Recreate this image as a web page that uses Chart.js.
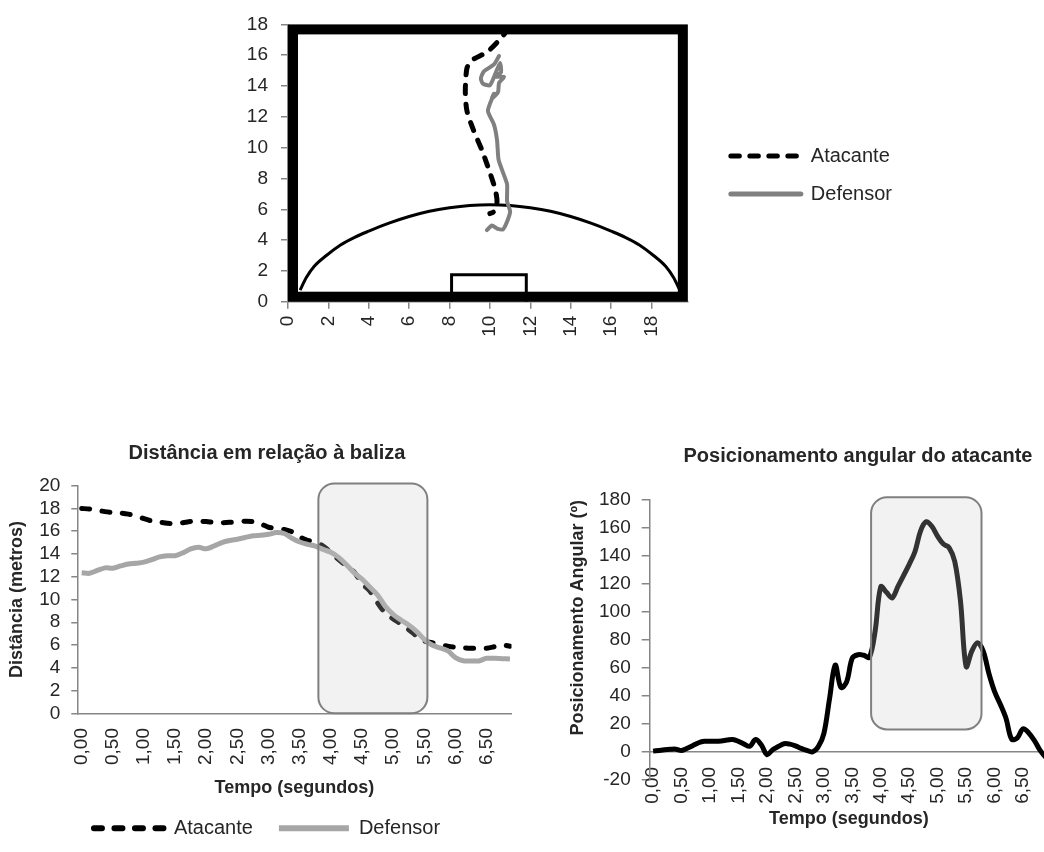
<!DOCTYPE html>
<html lang="pt">
<head>
<meta charset="utf-8">
<title>Atacante vs Defensor</title>
<script src="https://cdn.jsdelivr.net/npm/chart.js@4.4.1/dist/chart.umd.min.js"></script>
<style>
  html, body { margin: 0; padding: 0; background: #fff; overflow: hidden; }
  body { position: relative; width: 1044px; height: 852px; }
  canvas { position: absolute; }
  #campo { left: 0; top: 0; }
  #distancia { left: 0; top: 430px; }
  #angulo { left: 560px; top: 430px; }
</style>
</head>
<body>
<canvas id="campo" width="1044" height="360"></canvas>
<canvas id="distancia" width="540" height="422"></canvas>
<canvas id="angulo" width="600" height="440"></canvas>
<script>
// campo: trajetorias em metros
const atacanteX = [10.85, 10.76, 10.43, 9.85, 9.1, 8.86, 8.78, 8.86, 9.19, 9.6, 10.0, 10.26, 10.35, 10.18, 10.0];
const atacanteY = [17.8, 17.47, 16.94, 16.2, 15.67, 15.15, 13.66, 12.39, 11.12, 9.85, 8.37, 7.3, 6.46, 5.83, 5.72];
const defensorX = [10.45, 10.2, 9.7, 9.55, 9.65, 10.0, 10.3, 10.5, 10.55, 10.3, 10.7, 10.45, 10.4, 10.1, 10.2, 9.9, 10.2, 10.35, 10.43, 10.7, 10.85, 10.85, 11.0, 10.85, 10.65, 10.35, 10.1, 9.85];
const defensorY = [15.95, 15.4, 14.95, 14.5, 14.15, 14.05, 14.9, 15.5, 14.9, 14.6, 14.6, 14.2, 13.6, 13.2, 13.5, 12.4, 11.5, 10.5, 9.2, 8.2, 7.6, 6.5, 5.85, 5.2, 4.7, 4.75, 4.95, 4.65];
const arcoX = [0.6, 0.9, 1.3, 1.9, 2.6, 3.3, 4, 5, 6, 7, 8, 9, 10, 11, 12, 13, 14, 15, 16, 16.7, 17.4, 18.1, 18.7, 19.1, 19.4];
const arcoY = [0.75, 1.55, 2.3, 3.0, 3.68, 4.18, 4.58, 5.1, 5.53, 5.87, 6.1, 6.25, 6.3, 6.25, 6.1, 5.87, 5.53, 5.1, 4.58, 4.18, 3.68, 3.0, 2.3, 1.55, 0.75];
const balizaX = [8.1, 8.1, 11.8, 11.8];
const balizaY = [0, 1.75, 1.75, 0];
const marcasCampo = [0, 2, 4, 6, 8, 10, 12, 14, 16, 18];

// distancia em relacao a baliza (metros)
const tempoDist = [0, 0.125, 0.25, 0.375, 0.5, 0.625, 0.75, 0.875, 1, 1.125, 1.25, 1.375, 1.5, 1.625, 1.75, 1.875,
  2, 2.125, 2.25, 2.375, 2.5, 2.625, 2.75, 2.875, 3, 3.125, 3.25, 3.375, 3.5, 3.625, 3.75, 3.875,
  4, 4.125, 4.25, 4.375, 4.5, 4.625, 4.75, 4.875, 5, 5.125, 5.25, 5.375, 5.5, 5.625, 5.75, 5.875,
  6, 6.125, 6.25, 6.375, 6.5, 6.625, 6.75, 6.875];
const distAtacante = [18.0, 17.95, 17.85, 17.72, 17.65, 17.6, 17.5, 17.35, 17.1, 16.9, 16.8, 16.7, 16.67, 16.75, 16.85, 16.87,
  16.85, 16.78, 16.75, 16.78, 16.84, 16.88, 16.85, 16.65, 16.35, 16.25, 16.15, 15.95, 15.5, 15.2, 15.05, 14.7,
  14.15, 13.5, 12.95, 12.4, 11.4, 10.75, 9.7, 8.8, 8.3, 7.85, 7.35, 6.8, 6.35, 6.2, 6.05, 5.9,
  5.8, 5.75, 5.72, 5.72, 5.72, 5.85, 6.0, 5.9];
const distDefensor = [12.36, 12.3, 12.55, 12.78, 12.75, 12.95, 13.12, 13.18, 13.28, 13.5, 13.75, 13.85, 13.85, 14.1, 14.45, 14.6,
  14.45, 14.7, 15.0, 15.18, 15.3, 15.45, 15.6, 15.65, 15.73, 15.88, 15.8, 15.38, 15.05, 14.85, 14.7, 14.4,
  14.15, 13.7, 13.05, 12.35, 11.8, 11.1, 10.4, 9.4, 8.7, 8.2, 7.75, 7.2, 6.5, 6.0, 5.75, 5.5,
  4.9, 4.62, 4.6, 4.6, 4.83, 4.83, 4.8, 4.77];
const janelaDist = [3.8, 5.55, 0, 20.2]; // tempo inicio, tempo fim, valor min, valor max

// posicionamento angular do atacante (graus)
const tempoAng = [0, 0.1, 0.2, 0.3, 0.4, 0.5, 0.6, 0.7, 0.8, 0.9, 1, 1.1, 1.2, 1.3, 1.4, 1.5, 1.6, 1.7, 1.8, 1.9,
  2, 2.1, 2.2, 2.3, 2.4, 2.5, 2.6, 2.7, 2.8, 2.9, 3, 3.1, 3.2, 3.3, 3.4, 3.5, 3.6, 3.7, 3.8, 3.9,
  4, 4.1, 4.2, 4.3, 4.4, 4.5, 4.6, 4.7, 4.8, 4.9, 5, 5.1, 5.2, 5.3, 5.4, 5.5, 5.6, 5.7, 5.8, 5.9,
  6, 6.1, 6.2, 6.3, 6.4, 6.5, 6.6, 6.7, 6.8, 6.9];
const anguloAtacante = [0.5, 1.0, 1.5, 1.8, 1.9, 1.0, 2.5, 4.5, 6.5, 7.5, 7.6, 7.5, 7.8, 8.4, 8.8, 7.5, 5.5, 4.0, 8.8, 5.0,
  -2.0, 1.5, 3.8, 5.8, 5.5, 4.3, 2.5, 1.0, 0.0, 3.5, 13, 38, 62, 46, 50, 67, 69.4, 69, 67.5, 86,
  118, 114, 110, 118, 126, 134, 143, 158, 164.5, 161, 154, 148.5, 146, 136, 108, 61, 72, 78, 72, 56,
  43, 34, 24, 9, 10, 16.5, 13.5, 8, 1, -4];
const janelaAng = [3.83, 5.77, 16, 182];

const marcasTempo = [0, 0.5, 1, 1.5, 2, 2.5, 3, 3.5, 4, 4.5, 5, 5.5, 6, 6.5];
const rotulosTempo = ['0,00', '0,50', '1,00', '1,50', '2,00', '2,50', '3,00', '3,50', '4,00', '4,50', '5,00', '5,50', '6,00', '6,50'];

Chart.defaults.font.family = '"Liberation Sans", Arial, Helvetica, sans-serif';
Chart.defaults.color = '#262626';
Chart.defaults.animation = false;
Chart.defaults.events = [];

const corEixo = '#868686';
const corTexto = '#262626';
const pontos = (xs, ys) => xs.map((x, i) => ({x: x, y: ys[i]}));

function legendaLinhas(chart, largura) {
    return chart.data.datasets.slice(0, 2).map((ds, i) => ({
        text: ds.label,
        datasetIndex: i,
        strokeStyle: ds.borderColor,
        fillStyle: ds.borderColor,
        lineWidth: largura,
        lineDash: ds.borderDash || [],
        lineCap: ds.borderCapStyle || 'butt',
        pointStyle: 'line',
        fontColor: corTexto,
        hidden: false
    }));
}

// eixo vazio so para abrir espaco do lado direito
function folga(largura) {
    return {
        type: 'linear',
        position: 'right',
        grid: { display: false },
        border: { display: false },
        ticks: { display: false },
        afterFit: s => { s.width = largura; }
    };
}

// moldura grossa do campo
const moldura = {
    id: 'moldura',
    afterDatasetsDraw(chart) {
        const {ctx, chartArea: a} = chart;
        ctx.save();
        ctx.lineWidth = 10;
        ctx.strokeStyle = '#000';
        ctx.strokeRect(a.left + 5, a.top + 5, a.width - 10, a.height - 10);
        ctx.restore();
    }
};

// caixa arredondada sombreada sobre a janela de tempo
const destaque = {
    id: 'destaque',
    afterDatasetsDraw(chart, args, opts) {
        const {ctx, scales} = chart;
        const j = opts.janela;
        const x0 = scales.x.getPixelForValue(j[0]);
        const x1 = scales.x.getPixelForValue(j[1]);
        const y0 = scales.y.getPixelForValue(j[3]);
        const y1 = scales.y.getPixelForValue(j[2]);
        ctx.save();
        ctx.beginPath();
        ctx.roundRect(x0, y0, x1 - x0, y1 - y0, 16);
        ctx.fillStyle = 'rgba(205, 205, 205, 0.25)';
        ctx.fill();
        ctx.lineWidth = 2;
        ctx.strokeStyle = '#808080';
        ctx.stroke();
        ctx.restore();
    }
};

const fonteTicks = { size: 19 };
const fonteTitulo = { size: 20, weight: 'bold' };
const fonteEixo = { size: 18, weight: 'bold' };

new Chart(document.getElementById('campo'), {
    type: 'scatter',
    data: {
        datasets: [{
            label: 'Atacante',
            data: pontos(atacanteX, atacanteY),
            showLine: true,
            borderColor: '#000',
            borderWidth: 5,
            borderDash: [8.5, 10.5],
            borderCapStyle: 'round',
            pointRadius: 0,
            tension: 0.25
        }, {
            label: 'Defensor',
            data: pontos(defensorX, defensorY),
            showLine: true,
            borderColor: '#808080',
            borderWidth: 4,
            borderCapStyle: 'round',
            borderJoinStyle: 'round',
            pointRadius: 0,
            tension: 0.2
        }, {
            label: 'Área',
            data: pontos(arcoX, arcoY),
            showLine: true,
            borderColor: '#000',
            borderWidth: 3,
            pointRadius: 0,
            cubicInterpolationMode: 'monotone'
        }, {
            label: 'Baliza',
            data: pontos(balizaX, balizaY),
            showLine: true,
            borderColor: '#000',
            borderWidth: 3,
            pointRadius: 0,
            tension: 0
        }]
    },
    options: {
        responsive: false,
        devicePixelRatio: 1,
        layout: { padding: { left: 200, right: 142, top: 18, bottom: 13.3 } },
        plugins: {
            legend: {
                position: 'right',
                fullSize: false,
                maxWidth: 220,
                title: { display: true, text: ' ', font: { size: 20 }, padding: 0 },
                labels: {
                    usePointStyle: true,
                    pointStyleWidth: 70,
                    padding: 18,
                    font: { size: 20 },
                    generateLabels: c => legendaLinhas(c, 5)
                }
            },
            tooltip: { enabled: false }
        },
        scales: {
            x: {
                type: 'linear',
                min: 0,
                max: 19.8,
                afterBuildTicks: s => { s.ticks = marcasCampo.map(v => ({value: v})); },
                afterFit: s => { s.height = 45; },
                grid: { drawOnChartArea: false, tickLength: 7, color: corEixo, lineWidth: 1.5 },
                border: { color: corEixo, width: 1.5 },
                ticks: { minRotation: 90, maxRotation: 90, padding: 7, autoSkip: false, font: fonteTicks }
            },
            y: {
                min: 0,
                max: 18,
                afterFit: s => { s.width = 88; },
                grid: { drawOnChartArea: false, tickLength: 7, color: corEixo, lineWidth: 1.5 },
                border: { color: corEixo, width: 1.5 },
                ticks: { stepSize: 2, padding: 13, autoSkip: false, font: fonteTicks }
            },
            folga: folga(25)
        }
    },
    plugins: [moldura]
});

new Chart(document.getElementById('distancia'), {
    type: 'scatter',
    data: {
        datasets: [{
            label: 'Atacante',
            data: pontos(tempoDist, distAtacante),
            showLine: true,
            borderColor: '#000',
            borderWidth: 5,
            borderDash: [8, 12.5],
            borderCapStyle: 'round',
            pointRadius: 0,
            tension: 0.3,
            order: 1
        }, {
            label: 'Defensor',
            data: pontos(tempoDist, distDefensor),
            showLine: true,
            borderColor: '#a6a6a6',
            borderWidth: 5,
            pointRadius: 0,
            tension: 0.3,
            order: 0
        }]
    },
    options: {
        responsive: false,
        devicePixelRatio: 1,
        layout: { padding: { left: 0, right: 6, top: 0, bottom: 3.7 } },
        plugins: {
            title: {
                display: true,
                text: 'Distância em relação à baliza',
                color: corTexto,
                font: fonteTitulo,
                padding: { top: 11, bottom: 20.7 }
            },
            legend: {
                position: 'bottom',
                labels: {
                    usePointStyle: true,
                    pointStyleWidth: 70,
                    padding: 26,
                    font: { size: 20 },
                    generateLabels: c => legendaLinhas(c, 6)
                }
            },
            tooltip: { enabled: false },
            destaque: { janela: janelaDist }
        },
        scales: {
            x: {
                type: 'linear',
                min: -0.07,
                max: 6.9,
                afterBuildTicks: s => { s.ticks = marcasTempo.map(v => ({value: v})); },
                afterFit: s => { s.height = 79; },
                grid: { display: false, drawTicks: false },
                border: { color: corEixo, width: 1.5 },
                ticks: {
                    callback: (v, i) => rotulosTempo[i],
                    minRotation: 90, maxRotation: 90, padding: 14.7, autoSkip: false, font: fonteTicks
                },
                title: { display: true, text: 'Tempo (segundos)', color: corTexto, font: fonteEixo, padding: { top: 0, bottom: -6.5 } }
            },
            y: {
                min: 0,
                max: 20,
                afterFit: s => { s.width = 77.3; },
                grid: { drawOnChartArea: false, tickLength: 6, color: corEixo, lineWidth: 1.5 },
                border: { color: corEixo, width: 1.5 },
                ticks: { stepSize: 2, padding: 11, autoSkip: false, font: fonteTicks },
                title: { display: true, text: 'Distância (metros)', color: corTexto, font: fonteEixo, padding: { top: 6, bottom: 0 } }
            },
            folga: folga(22.5)
        }
    },
    plugins: [destaque]
});

new Chart(document.getElementById('angulo'), {
    type: 'scatter',
    data: {
        datasets: [{
            label: 'Posicionamento angular',
            data: pontos(tempoAng, anguloAtacante),
            showLine: true,
            borderColor: '#000',
            borderWidth: 5,
            pointRadius: 0,
            tension: 0.35
        }]
    },
    options: {
        responsive: false,
        devicePixelRatio: 1,
        layout: { padding: { left: 0, right: 4, top: 0, bottom: 90.2 } },
        plugins: {
            title: {
                display: true,
                text: 'Posicionamento angular do atacante',
                color: corTexto,
                font: fonteTitulo,
                padding: { top: 14, bottom: 32 }
            },
            legend: { display: false },
            tooltip: { enabled: false },
            destaque: { janela: janelaAng }
        },
        scales: {
            x: {
                type: 'linear',
                position: { y: 0 },
                min: -0.06,
                max: 6.94,
                afterBuildTicks: s => { s.ticks = marcasTempo.map(v => ({value: v})); },
                afterFit: s => { s.height = 78; },
                grid: { display: false, drawTicks: false },
                border: { color: corEixo, width: 1.5 },
                ticks: {
                    callback: (v, i) => rotulosTempo[i],
                    minRotation: 90, maxRotation: 90, padding: 15, autoSkip: false, font: fonteTicks
                },
                title: { display: true, text: 'Tempo (segundos)', color: corTexto, font: fonteEixo, padding: { top: 0, bottom: 0 } }
            },
            y: {
                min: -20,
                max: 180,
                afterFit: s => { s.width = 89.7; },
                grid: { drawOnChartArea: false, tickLength: 8, color: corEixo, lineWidth: 1.5 },
                border: { color: corEixo, width: 1.5 },
                ticks: { stepSize: 20, padding: 11, autoSkip: false, font: fonteTicks },
                title: { display: true, text: 'Posicionamento Angular (º)', align: 'end', color: corTexto, font: fonteEixo, padding: { top: 7.5, bottom: 0 } }
            },
            folga: folga(107.9)
        }
    },
    plugins: [destaque]
});
</script>
</body>
</html>
